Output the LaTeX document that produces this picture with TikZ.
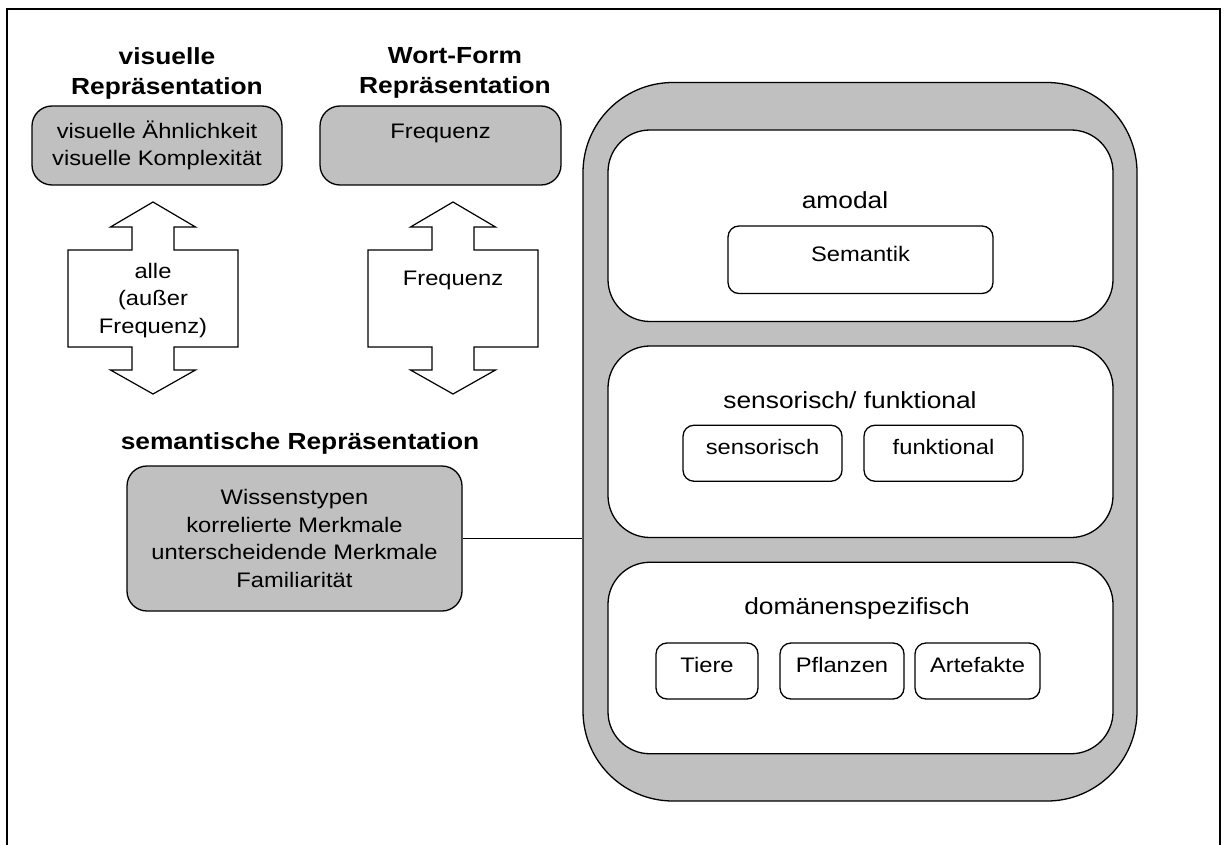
\documentclass[tikz,border=0pt]{standalone}
\usepackage{fontspec}
\setmainfont{Liberation Sans}[FakeStretch=1.13]
\usepackage{xcolor}

\begin{document}
\begin{tikzpicture}[x=1pt,y=-1pt,line width=1.3pt,
  titel/.style={align=center,font=\fontsize{23.3}{30}\selectfont\bfseries},
  graybox/.style={draw,fill=boxgray,rounded corners=20pt,align=center,font=\fontsize{21}{27.6}\selectfont},
  panel/.style={draw,fill=white,rounded corners=42pt,minimum width=505,minimum height=191.5},
  paneltext/.style={font=\fontsize{23.3}{28}\selectfont},
  smallbox/.style={draw,fill=white,rounded corners=11pt,minimum height=56,text height=13pt,text depth=10pt,font=\fontsize{21}{26}\selectfont}]
\definecolor{boxgray}{HTML}{C0C0C0}
\useasboundingbox (0,0) rectangle (1225,845);
\draw[line width=1.5pt] (7,845) -- (7,9) -- (1220,9) -- (1220,845);

% linke Seite
\node[titel] (vistitel) at (167,73) {visuelle\\Repräsentation};
\node[titel] (worttitel) at (455,73) {Wort-Form\\Repräsentation};
\node[graybox,minimum width=250,minimum height=79] (visuell) at (157,145.5)
  {visuelle Ähnlichkeit\\visuelle Komplexität};
\node[graybox,minimum width=241,minimum height=79] (wortform) at (440.5,145.5)
  {Frequenz\\ \mbox{}};
  \foreach \cx/\ty/\nm/\txt in {153/300.5/vispfeil/{alle\\(außer\\Frequenz)},453/280/wortpfeil/Frequenz}
  {  \draw[fill=white,line width=1.2pt] (\cx,202) -- ++(42.5,25) -- ++(-21.5,0) -- ++(0,23) -- ++(64,0)
       -- ++(0,97) -- ++(-64,0) -- ++(0,23) -- ++(21.5,0) -- (\cx,394) -- ++(-42.5,-24)
       -- ++(21.5,0) -- ++(0,-23) -- ++(-64,0) -- ++(0,-97) -- ++(64,0) -- ++(0,-23)
       -- ++(-21.5,0) -- cycle;
     \node[align=center,font=\fontsize{21}{27.6}\selectfont] (\nm) at (\cx,\ty) {\txt};}
\node[titel] (semtitel) at (300,443) {semantische Repräsentation};
\node[graybox,minimum width=335,minimum height=145] (sem) at (294.5,538.5)
  {Wissenstypen\\korrelierte Merkmale\\unterscheidende Merkmale\\Familiarität};

% rechte Seite
\node[draw,fill=boxgray,rounded corners=90pt,minimum width=554,minimum height=718.5] (outer) at (860,441.75) {};
\node[panel] (amodal) at (860.5,225.75) {};
\node[panel] (sensfunk) at (860.5,441.75) {};
\node[panel] (domaene) at (860.5,658) {};
\node[paneltext] (amodaltxt) at (845,200) {amodal};
\node[paneltext] (sensfunktxt) at (850,400) {sensorisch/ funktional};
\node[paneltext] (domaenetxt) at (857,608.5) {domänenspezifisch};
\node[smallbox,minimum width=265,minimum height=67.5] (semantik) at (860.5,259.75) {Semantik};
\node[smallbox,minimum width=159] (sensorisch) at (762.5,453.25) {sensorisch};
\node[smallbox,minimum width=159] (funktional) at (943.5,453.25) {funktional};
\node[smallbox,minimum width=102] (tiere) at (707,671) {Tiere};
\node[smallbox,minimum width=124] (pflanzen) at (842,671) {Pflanzen};
\node[smallbox,minimum width=125] (artefakte) at (977.5,671) {Artefakte};

\draw (sem.east) -- (sem.east -| outer.west);
\end{tikzpicture}
\end{document}
